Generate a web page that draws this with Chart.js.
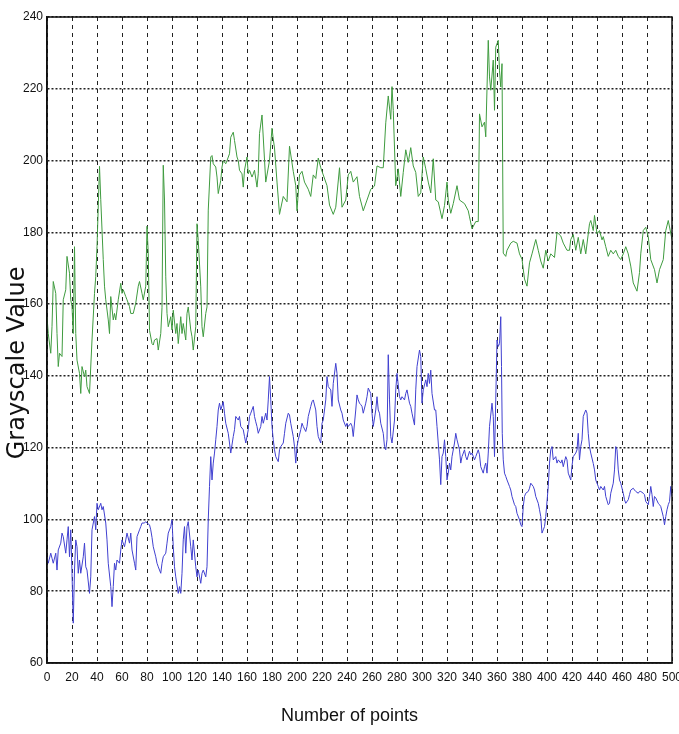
<!DOCTYPE html>
<html>
<head>
<meta charset="utf-8">
<script src="https://cdn.jsdelivr.net/npm/chart.js@4"></script>
<style>
  html, body { margin: 0; padding: 0; background: #fff; }
  canvas { display: block; }
</style>
</head>
<body>
<canvas id="grayChart" width="679" height="734"></canvas>
<script>
// values (x = point index, y = grayscale value)
const greenX = [0,1,3,4,5,7,8,9,10,12,13,15,16,18,19,20,21,22,23,24,26,27,28,30,31,32,34,36,38,39,40,42,43,45,46,47,49,50,51,53,54,55,57,59,60,61,63,64,66,67,69,71,73,74,76,77,79,80,81,82,84,85,86,88,89,91,92,93,94,95,96,97,99,100,101,103,104,105,107,108,109,111,112,113,115,116,117,119,120,121,123,124,125,127,128,129,131,132,133,135,136,137,139,140,141,143,144,146,147,149,150,152,153,154,156,157,158,160,161,162,164,165,166,168,169,170,172,175,178,180,181,182,184,186,189,192,194,197,199,200,202,204,206,209,211,213,215,217,219,221,224,226,229,231,234,236,239,241,243,245,248,250,253,256,259,262,264,267,269,271,273,275,276,277,279,281,283,285,287,289,291,293,295,297,299,301,303,305,307,309,311,313,316,318,320,321,323,325,328,330,334,337,338,340,343,345,346,348,350,351,353,354,355,357,358,359,361,362,363,364,365,367,368,371,373,376,378,380,382,384,386,388,391,393,395,397,399,401,403,406,408,411,413,416,418,419,421,423,425,427,429,431,434,435,437,438,440,442,444,445,447,449,451,453,455,457,459,461,463,465,467,469,472,474,475,477,479,481,483,486,488,490,493,495,497,500];
const greenY = [156.5,151.8,146.3,153.7,166.3,163,151.8,142.6,146.3,145.4,161.2,164,173.3,168.6,161.2,159.3,151.8,176,151.8,144.4,140.7,135.1,142.6,139.8,141.6,137,135.1,150,163,167.7,176,198.4,189.1,172.4,165,161.2,155.6,151.8,162.1,155.6,157.4,155.6,161.2,165.8,163,164,162.1,161.2,159.3,157.4,157.4,160.3,165,166.3,163,161.2,165,181.7,174.2,152.7,149,148.6,150,150.4,147.2,151.8,159,198.7,189,167.6,157.4,153.7,156.5,152.8,158.3,151.8,154.6,149,156.5,151.8,154.6,150,157.4,159.2,152.8,150.9,147.2,153.7,182.4,177.7,164.8,153.7,150.9,157.4,159.2,186.2,201,201.4,199.1,198.2,195.4,190.8,194.5,198.2,200,199.1,200,201.9,206.5,207.9,205.6,201,200,197.3,196.3,192.6,197.3,201,196.3,197.3,195.4,196.3,197.3,192.6,196.3,207.5,212.7,194,200,209,206,203.5,194,185,190,188.5,204,197,193,186,196,197,194,192,190,196,195,200.7,198,196,193,187.6,185,187,198,187,189,196,197,194,195.5,190,186,189,192,192.9,198.5,198,198,210.5,218,211.5,220.6,214,193,197.7,190,196.7,203,199.5,203.6,198.5,196.7,190,191,201,197.7,194,191,200.5,189,188.5,183.8,187.5,194,189,185.3,188,193,189,188,186,184.3,181,183,183,213,209.4,210.7,206.6,233.5,223.3,219.6,228,214,231.6,233.5,225,220.5,227,174.2,173.3,175,177,177.5,177,174,172.5,167,165,171.5,174,178,175,172,170,175,172,174,173,180,179,177,175,175,178,179.4,175,178.6,174,178,174,182.4,183.3,180.5,184.7,179.6,180.5,177.9,178.8,176,173.3,175,174,175,173.3,172.4,174,176,174,170.6,165.9,163.6,168.8,174,180.5,181.4,178.8,172.4,169.6,165.9,169.6,172.4,180.5,183.3,178];

const blueX = [0,1,3,4,5,7,8,9,11,12,13,15,16,17,18,19,20,21,22,23,24,25,26,27,29,30,31,32,34,35,36,38,39,40,41,43,44,45,47,48,49,51,52,53,54,55,56,58,59,60,62,63,64,66,67,68,70,71,72,74,75,76,78,79,80,82,83,84,85,87,88,89,91,92,93,95,96,97,99,100,101,102,103,105,106,107,108,109,110,111,112,113,115,116,117,119,120,121,123,124,125,127,128,129,130,131,132,133,134,135,136,137,138,139,141,142,143,145,146,147,149,150,151,153,154,155,157,158,159,161,162,163,165,166,167,168,169,171,172,173,175,176,177,178,179,180,181,182,183,185,186,187,189,190,191,193,194,195,197,198,199,200,201,203,204,205,207,208,209,211,212,213,215,216,217,219,220,221,223,224,225,227,228,229,231,232,233,235,236,237,239,240,241,243,244,245,247,248,249,250,251,252,253,255,256,257,259,260,261,263,264,265,266,267,269,270,271,272,273,274,275,276,278,279,280,282,283,284,286,287,288,290,291,292,294,295,296,298,299,300,301,303,304,305,306,307,308,310,311,312,313,314,315,316,317,318,319,320,321,322,323,324,326,327,328,330,331,332,334,335,336,338,339,340,342,343,345,346,347,349,350,351,352,353,354,356,357,358,359,360,361,362,363,363.6,364.2,365,366,367,368,370,371,372,374,375,376,378,379,380,381,382,383,385,386,387,389,390,391,393,394,395,396,397,398,399,401,402,403,404,405,407,408,409,411,412,413,415,416,417,419,420,421,423,424,425,426,427,428,429,431,432,433,434,435,437,438,439,441,442,443,445,446,447,449,450,451,453,454,455,456,457,458,459,461,462,463,465,466,467,469,470,471,473,474,475,477,478,479,481,482,483,484,485,486,487,489,490,491,493,494,495,496,497,498,499,500];
const blueY = [89.6,87.8,90.6,89.2,87.8,90.6,85.9,91.5,93.4,96.2,95.2,90.6,94.3,98,89.6,97.1,85,71.1,85.9,94.3,92.4,85,88.7,85,89.6,93.4,86.8,85.9,79.4,84,97.1,100.8,97.1,104.5,102.7,104.5,102.7,103.6,99,94.3,87.8,81.3,75.7,81.3,87.8,85.9,88.7,87.8,91.5,94.3,92.4,94.3,96.2,93.4,96.2,91.5,87.8,85.9,95.2,97.1,98,99,99,99.4,99,98.5,97.1,95,92.4,89.6,87.8,86.8,85,87.8,89.6,90.6,93.4,96.2,98,99.9,92.4,86.8,84,79.4,81.3,79.4,85,94.3,98,90.6,98,99.4,92.4,88.7,94.3,86.8,84,85.9,82.2,85,85.9,84,86.8,99.9,109.2,117.5,111,115.7,118.5,122.2,125.9,130.5,132.4,130.5,132.8,129.6,126.8,124,121.3,118.5,123.1,125,128.7,127.7,128.7,125.9,125,123.1,121.3,125,128.7,129.6,131.5,128.7,127.2,125.9,124,125.9,128.7,126.8,129.6,127.7,133.3,139.8,133.3,125.9,122.2,119.4,117.5,116.1,119.4,120.3,121.3,124,126.8,129.6,129.1,126.8,123.1,120.3,115.7,120.3,122.2,125,126.8,125.9,124.5,125.9,128.7,131.5,132.8,133.3,130.5,125.9,123.1,121.3,126.8,127.7,133.3,139.8,137,136.1,131.5,137.9,143.5,140.7,133.3,130.5,129.6,127.7,125.9,126.8,125.9,126.8,126,123.1,130.5,134.7,133.3,132.4,132,131.5,129.6,132.4,134.2,136.6,135.1,129.6,125.9,130.5,134.2,130.5,129.6,126.8,124,120.3,119.4,122.2,145.9,133.3,123.1,121.3,127.7,136.1,140.7,134.2,133.3,134.2,133.3,135.1,136.1,132.4,131.5,129.6,126.3,136.1,142.6,147.2,145.4,132.4,136.1,138.9,137,140.7,137.9,141.6,135.1,130.5,130.5,125.9,121.3,116.6,109.7,117.5,118.5,122.2,117.5,111,112.9,115.7,113.8,117.5,121.3,124,122.2,119.4,115.7,117.5,119.4,117.5,116.6,119,118,118.5,116.6,117.5,119.4,118,114.7,112.9,114.7,115.7,112.9,118.5,125.9,132.4,128.7,117.5,133.3,150,148.2,149,156.5,142.6,124,116.6,112.9,112,111,109.2,108.2,106.4,104.1,103.6,101.7,99.9,98.5,98,103.6,106.4,107.3,107.8,108.7,110.1,109.2,108.2,106.4,104.5,102.7,100.8,96.2,97.1,98,100.8,109.2,115.7,119.4,120.3,116.6,117.5,115.7,116.6,115.7,116.6,114.7,117.5,116.6,112.9,111,115,117.5,118.5,119.4,124,116.6,120.3,122.2,128.7,130.5,129.6,124,120.3,118.5,115.6,113.8,111,109.2,108.2,109.2,108.2,109.2,106.4,104.1,104.5,107.3,110.1,113.8,120.3,119.4,113.8,111,110.1,107.3,105.5,104.5,105.5,106.9,108.2,108.7,108.2,107.8,107.3,107.8,107.8,107.3,106.9,105,104.1,106.4,109.2,106.9,103.6,106.4,106,104.5,104.1,103.6,100.8,98.5,100.8,102.7,104.1,105,109.2,106.4];

const toPoints = (xs, ys) => xs.map((x, i) => ({ x: x, y: ys[i] }));

// plot frame (box round the plot area like the original)
const frame = {
    id: 'frame',
    afterDraw(chart) {
        const { ctx, chartArea: a } = chart;
        ctx.save();
        ctx.strokeStyle = '#111';
        ctx.lineWidth = 1.5;
        ctx.strokeRect(a.left, a.top, a.right - a.left, a.bottom - a.top);
        ctx.restore();
    }
};

const ctx = document.getElementById('grayChart').getContext('2d');
new Chart(ctx, {
    type: 'line',
    data: {
        datasets: [
            {
                data: toPoints(greenX, greenY),
                borderColor: '#3f9b3f',
                borderWidth: 1,
                pointRadius: 0,
                tension: 0
            },
            {
                data: toPoints(blueX, blueY),
                borderColor: '#4040d0',
                borderWidth: 1,
                pointRadius: 0,
                tension: 0
            }
        ]
    },
    options: {
        responsive: false,
        animation: false,
        layout: { padding: { top: 17, right: 7, left: 0, bottom: 0 } },
        plugins: {
            legend: { display: false },
            tooltip: { enabled: false }
        },
        scales: {
            x: {
                type: 'linear',
                min: 0,
                max: 500,
                afterFit(scale) {
                    scale.height = 71;
                    scale.paddingLeft = 0;
                    scale.paddingRight = 0;
                },
                ticks: {
                    stepSize: 20,
                    autoSkip: false,
                    maxRotation: 0,
                    padding: 7,
                    color: '#111',
                    font: { family: 'Liberation Sans', size: 12 }
                },
                grid: {
                    color: '#222',
                    lineWidth: 1,
                    drawTicks: false
                },
                border: { display: true, color: '#111', width: 1.5, dash: [4, 4] },
                title: {
                    display: true,
                    text: 'Number of points    ',
                    color: '#111',
                    font: { family: 'Liberation Sans', size: 18 },
                    padding: { top: 0, bottom: 7 }
                }
            },
            y: {
                min: 60,
                max: 240,
                afterFit(scale) { scale.width = 47; },
                ticks: {
                    stepSize: 20,
                    padding: 4,
                    color: '#111',
                    font: { family: 'Liberation Sans', size: 12 }
                },
                grid: {
                    color: '#222',
                    lineWidth: 1.5,
                    drawTicks: false
                },
                border: { display: true, color: '#111', width: 1.5, dash: [2, 2] },
                title: {
                    display: true,
                    text: 'Grayscale Value      ',
                    color: '#111',
                    font: { family: 'DejaVu Sans', size: 24 },
                    padding: { top: 3, bottom: 0 }
                }
            }
        }
    },
    plugins: [frame]
});
</script>
</body>
</html>
